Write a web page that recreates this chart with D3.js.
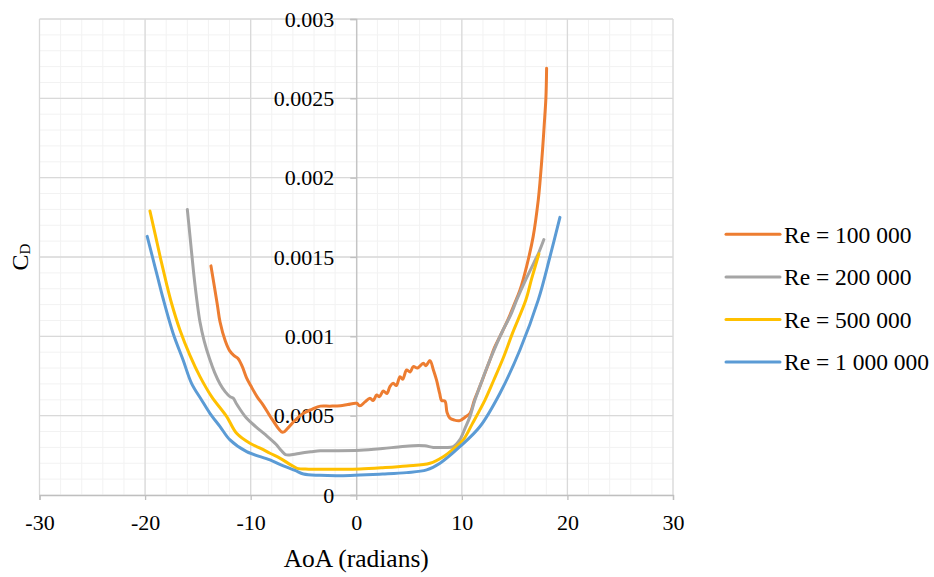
<!DOCTYPE html>
<html>
<head>
<meta charset="utf-8">
<script src="https://cdn.jsdelivr.net/npm/d3@7"></script>
<style>
  body { margin: 0; background: #fff; }
  svg { display: block; }
  text { font-family: "Liberation Serif", "Tinos", "Times New Roman", "DejaVu Serif", serif; fill: #000; }
</style>
</head>
<body>
<svg id="chart" width="934" height="577"></svg>
<script>
// Drag coefficient vs angle of attack for four Reynolds numbers
const seriesNames = ["Re = 100 000", "Re = 200 000", "Re = 500 000", "Re = 1 000 000"];
const seriesColors = ["#ED7D31", "#A5A5A5", "#FFC000", "#5B9BD5"];

const xTicks = [-30, -20, -10, 0, 10, 20, 30];
const xTickLabels = ["-30", "-20", "-10", "0", "10", "20", "30"];
const yTicks = [0, 0.0005, 0.001, 0.0015, 0.002, 0.0025, 0.003];
const yTickLabels = ["0", "0.0005", "0.001", "0.0015", "0.002", "0.0025", "0.003"];

// Re = 100 000
const aoa100k = [-13.76, -13.16, -12.9, -12.4, -12.0, -11.6, -11.2, -10.8, -10.4, -10.0, -9.4, -8.8, -8.0, -6.97,
  -6.5, -5.8, -5.0, -4.2, -3.4, -2.5, -1.5, -0.8, 0.03, 0.35, 0.8, 1.3, 1.6, 1.93, 2.2, 2.56, 2.9, 3.2, 3.5, 3.8,
  4.14, 4.4, 4.77, 5.1, 5.4, 5.8, 6.35, 6.6, 6.98, 7.3, 7.6, 7.9, 8.09, 8.4, 8.6, 8.87, 9.3, 9.8, 10.3, 10.77,
  11.2, 11.7, 12.2, 12.66, 13.1, 13.6, 14.4, 15.2, 15.5, 16.13, 16.76, 17.24, 17.4, 17.65, 17.8, 17.96, 18.03];
const cd100k = [0.001444, 0.0012, 0.00109, 0.00097, 0.00091, 0.00088, 0.00086, 0.00081, 0.00074, 0.00069, 0.00062, 0.000565, 0.00048, 0.000395,
  0.00042, 0.00047, 0.000515, 0.00054, 0.00056, 0.00056, 0.000562, 0.00057, 0.000578, 0.000562, 0.000585, 0.00061, 0.000595, 0.00063, 0.00062, 0.000655, 0.00064, 0.000685, 0.000704, 0.00069,
  0.000746, 0.00073, 0.000788, 0.000775, 0.000809, 0.0008, 0.00083, 0.000815, 0.000847, 0.00079, 0.000725, 0.00064, 0.000595, 0.000592, 0.00052, 0.000484, 0.000472, 0.000469, 0.00049, 0.000515,
  0.0006, 0.000683, 0.00077, 0.000851, 0.00093, 0.000998, 0.00111, 0.00124, 0.00129, 0.00144, 0.00163, 0.00186, 0.00197, 0.00218, 0.00233, 0.00250, 0.00269];

// Re = 200 000
const aoa200k = [-16.0, -15.7, -15.4, -15.1, -14.8, -14.4, -13.9, -13.4, -12.9, -12.4, -11.96, -11.65, -11.3, -10.4, -9.5, -8.6,
  -7.6, -7.1, -6.7, -6.0, -5.3, -4.3, -3.4, -2.0, 0.35, 2.5, 4.0, 5.4, 6.5, 7.3, 8.3, 9.2, 9.8, 10.3, 10.77,
  11.2, 11.7, 12.66, 13.9, 14.6, 15.2, 16.0, 16.8, 17.3, 17.77];
const cd200k = [0.0018, 0.0016, 0.0014, 0.00123, 0.00109, 0.00097, 0.00086, 0.00077, 0.0007, 0.00065, 0.00062, 0.00061, 0.00057, 0.000485, 0.00043, 0.00038,
  0.00032, 0.00028, 0.000255, 0.000255, 0.000263, 0.000272, 0.000279, 0.000279, 0.000282, 0.000293, 0.000303, 0.000311, 0.00031, 0.0003, 0.0003, 0.000305, 0.000347, 0.00042, 0.000494,
  0.00059, 0.000683, 0.000851, 0.00104, 0.00113, 0.00123, 0.00135, 0.00146, 0.00153, 0.00161];

// Re = 500 000
const aoa500k = [-19.54, -19.0, -18.5, -18.0, -17.5, -16.7, -15.75, -14.8, -13.7, -12.27, -11.33, -10.07, -9.0, -8.17,
  -7.2, -6.2, -5.6, -4.5, -3.44, -1.5, 0.35, 2.5, 4.77, 6.98, 8.24, 9.2, 10.13, 11.0, 12.2, 13.0, 13.9, 14.8, 16.07, 16.6, 17.3];
const cd500k = [0.00179, 0.00163, 0.00148, 0.00134, 0.00121, 0.00104, 0.00088, 0.000746, 0.00062, 0.000494, 0.000389, 0.000326, 0.000292, 0.000263,
  0.000231, 0.00019, 0.000168, 0.000163, 0.000162, 0.000162, 0.000164, 0.000172, 0.000183, 0.0002, 0.000241, 0.00029, 0.000347, 0.00045, 0.0006, 0.00072, 0.00086, 0.00102, 0.00123, 0.00136, 0.00152];

// Re = 1 000 000
const aoa1m = [-19.8, -19.3, -18.8, -18.3, -17.35, -16.4, -15.6, -14.65, -13.86, -12.9, -11.96, -10.38, -8.17,
  -6.9, -5.8, -5.0, -3.44, -1.5, 0.35, 2.5, 4.77, 6.67, 7.93, 9.82, 11.7, 13.6, 15.5, 17.24, 18.34, 19.29];
const cd1m = [0.00163, 0.0015, 0.00137, 0.00124, 0.00102, 0.000851, 0.000704, 0.000599, 0.000515, 0.000431, 0.000347, 0.000273, 0.000221,
  0.000183, 0.000155, 0.000132, 0.000124, 0.000122, 0.000126, 0.000132, 0.000141, 0.000158, 0.0002, 0.000305, 0.00043, 0.00064, 0.000914, 0.00123, 0.0015, 0.00175];

const seriesAoa = [aoa100k, aoa200k, aoa500k, aoa1m];
const seriesCd = [cd100k, cd200k, cd500k, cd1m];

const FONT = "'Liberation Serif', 'Tinos', 'Times New Roman', 'DejaVu Serif', serif";

const svg = d3.select("#chart");
const x = d3.scaleLinear().domain([-30, 30]).range([39.5, 673]);
const y = d3.scaleLinear().domain([0, 0.003]).range([495, 19]);

// Minor grid
const grid = svg.append("g");
grid.selectAll("line.mx").data(d3.range(-30, 30.01, 2)).join("line")
  .attr("x1", d => x(d)).attr("x2", d => x(d)).attr("y1", y(0)).attr("y2", y(0.003))
  .attr("stroke", "#f2f2f2").attr("stroke-width", 1);
grid.selectAll("line.my").data(d3.range(0, 31).map(i => i * 0.0001)).join("line")
  .attr("y1", d => y(d)).attr("y2", d => y(d)).attr("x1", x(-30)).attr("x2", x(30))
  .attr("stroke", "#f2f2f2").attr("stroke-width", 1);
// Major grid
grid.selectAll("line.Mx").data(xTicks.filter(d => d !== 0)).join("line")
  .attr("x1", d => x(d)).attr("x2", d => x(d)).attr("y1", y(0)).attr("y2", y(0.003))
  .attr("stroke", "#d9d9d9").attr("stroke-width", 1.3);
grid.selectAll("line.My").data(yTicks.filter(d => d !== 0)).join("line")
  .attr("y1", d => y(d)).attr("y2", d => y(d)).attr("x1", x(-30)).attr("x2", x(30))
  .attr("stroke", "#d9d9d9").attr("stroke-width", 1.3);

// Axes crossing at the origin
const xAxis = d3.axisBottom(x).tickValues(xTicks).tickSize(5).tickPadding(14)
  .tickFormat((d, i) => xTickLabels[i]);
const gx = svg.append("g").attr("transform", `translate(0,${y(0)})`).call(xAxis);
const yAxis = d3.axisLeft(y).tickValues(yTicks).tickSize(6).tickPadding(16)
  .tickFormat((d, i) => yTickLabels[i]);
const gy = svg.append("g").attr("transform", `translate(${x(0)},0)`).call(yAxis);
[gx, gy].forEach(g => {
  g.attr("font-family", null).attr("font-size", null);
  g.select(".domain").attr("stroke", "#bfbfbf").attr("stroke-width", 1.3);
  g.selectAll(".tick line").attr("stroke", "#bfbfbf").attr("stroke-width", 1.3);
  g.selectAll(".tick text").style("font-size", "22px").style("font-family", FONT).attr("fill", "#000");
});

// Series lines
const line = d3.line().x(d => x(d[0])).y(d => y(d[1])).curve(d3.curveCatmullRom.alpha(0.5));
seriesNames.forEach((name, i) => {
  const pts = seriesAoa[i].map((a, k) => [a, seriesCd[i][k]]);
  svg.append("path").datum(pts).attr("d", line)
    .attr("fill", "none").attr("stroke", seriesColors[i]).attr("stroke-width", 3)
    .attr("stroke-linecap", "round").attr("stroke-linejoin", "round");
});

// Axis titles
svg.append("text").attr("x", x(0)).attr("y", 567).attr("text-anchor", "middle")
  .style("font-family", FONT).style("font-size", "25.5px").text("AoA (radians)");
const yt = svg.append("text").attr("transform", "translate(28,257) rotate(-90)")
  .attr("text-anchor", "middle").style("font-family", FONT).style("font-size", "24px");
yt.append("tspan").text("C");
yt.append("tspan").style("font-size", "15px").attr("dy", 2).text("D");

// Legend
const legend = svg.append("g");
seriesNames.forEach((name, i) => {
  const cy = 234.3 + i * 42.6;
  legend.append("line").attr("x1", 726).attr("x2", 780).attr("y1", cy).attr("y2", cy)
    .attr("stroke", seriesColors[i]).attr("stroke-width", 3).attr("stroke-linecap", "round");
  legend.append("text").attr("x", 784).attr("y", cy).attr("dy", "0.35em")
    .style("font-family", FONT).style("font-size", "23.5px").text(name);
});
</script>
</body>
</html>
